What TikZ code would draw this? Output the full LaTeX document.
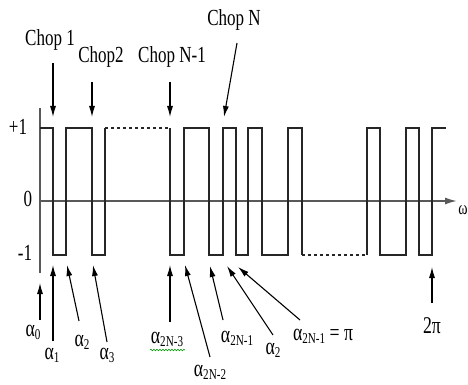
\documentclass[tikz,border=0pt]{standalone}
\usepackage{fontspec}
\setmainfont{Liberation Serif}[FakeStretch=0.74]
\usetikzlibrary{arrows.meta,positioning,decorations.pathmorphing}

\tikzset{
  wave/.style={line width=1.1pt,black!85},
  axis/.style={line width=1.6pt,black!65},
  pointer/.style={line width=1.1pt,-{Latex[length=11pt,width=6pt]}},
  lbl/.style={inner sep=0pt,font=\fontsize{23}{24}\selectfont},
  anglbl/.style={inner sep=0pt,font=\fontsize{24}{24}\selectfont},
}
\newcommand{\chopidx}[1]{\raisebox{-3pt}{\fontsize{15}{15}\selectfont #1}}

\begin{document}
\begin{tikzpicture}[x=1pt,y=-1pt]
    \useasboundingbox (0,0) rectangle (468,385);

    % axes
    \draw[axis] (40,108) -- (40,273);
    \draw[axis,-{Latex[length=12pt,width=7pt]}] (40,201) -- (457,201);
    \node[anglbl,font=\fontsize{19}{19}\selectfont] (omega) at (463,210) {ω};
    \node[lbl] (plusone) at (18,127) {+1};
    \node[lbl] (zero) at (28,199) {0};
    \node[lbl] (minusone) at (25,253) {-1};

    % chopped waveform, first part
    \draw[wave] (40,128) -- (53,128) -- (53,255) -- (66,255) -- (66,128)
        -- (92,128) -- (92,255) -- (105,255) -- (105,128);
    \draw[wave,dashed] (105,128) -- (170,128);
    % middle part, chops N-1 and N
    \draw[wave] (170,128) -- (170,255) -- (184,255) -- (184,128) -- (209,128)
        -- (209,255) -- (223,255) -- (223,128) -- (236,128) -- (236,255)
        -- (248,255) -- (248,128) -- (262,128) -- (262,255) -- (288,255)
        -- (288,128) -- (302,128) -- (302,255);
    \draw[wave,dashed] (302,255) -- (367,255);
    % last part up to 2 pi
    \draw[wave] (367,255) -- (367,128) -- (380,128) -- (380,255) -- (406,255)
        -- (406,128) -- (419,128) -- (419,255) -- (432,255) -- (432,128)
        -- (446,128);

    % chop labels on top
    \node[lbl] (chopone) at (50,40) {Chop 1};
    \node[lbl] (choptwo) at (101,57) {Chop2};
    \node[lbl] (chopnm) at (172,57) {Chop N-1};
    \node[lbl] (chopn) at (234,20) {Chop N};
    \coordinate (c1from) at (53,63);   \coordinate (c1to) at (53,117);
    \coordinate (c2from) at (92,82);   \coordinate (c2to) at (92,117);
    \coordinate (c3from) at (170,82);  \coordinate (c3to) at (170,117);
    \coordinate (c4from) at (237,43);  \coordinate (c4to) at (224,117);
    \draw[pointer] (c1from) -- (c1to);
    \draw[pointer] (c2from) -- (c2to);
    \draw[pointer] (c3from) -- (c3to);
    \draw[pointer] (c4from) -- (c4to);

    % switching angles below
    \node[anglbl] (a0) at (33,332) {α\chopidx{0}};
    \node[anglbl] (a1) at (52,355) {α\chopidx{1}};
    \node[anglbl] (a2) at (82,342) {α\chopidx{2}};
    \node[anglbl] (a3) at (107,355) {α\chopidx{3}};
    \node[anglbl] (a2nm3) at (167,339) {α\chopidx{2N-3}};
    \node[anglbl] (a2nm2) at (210,372) {α\chopidx{2N-2}};
    \node[anglbl] (a2nm1) at (237,338) {α\chopidx{2N-1}};
    \node[anglbl] (a2b) at (273,350) {α\chopidx{2}};
    \node[anglbl] (api) at (323,336) {α\chopidx{2N-1} = π};
    \node[anglbl] (twopi) at (432,326) {2π};
    \draw[green!60!black,line width=0.6pt,decorate,
        decoration={snake,amplitude=0.8pt,segment length=3pt}]
        (150,350) -- (185,350);

    \coordinate (t0) at (40,320);   \coordinate (h0) at (40,283);
    \coordinate (t1) at (53,341);   \coordinate (h1) at (53,265);
    \coordinate (t2) at (79,321);   \coordinate (h2) at (67,265);
    \coordinate (t3) at (107,342);  \coordinate (h3) at (93,265);
    \coordinate (t4) at (170,322);  \coordinate (h4) at (170,265);
    \coordinate (t5) at (210,357);  \coordinate (h5) at (185,265);
    \coordinate (t6) at (223,320);  \coordinate (h6) at (210,266);
    \coordinate (t7) at (273,335);  \coordinate (h7) at (227,266);
    \coordinate (t8) at (300,320);  \coordinate (h8) at (238,267);
    \coordinate (t9) at (432,303);  \coordinate (h9) at (432,267);
    \draw[pointer] (t0) -- (h0);
    \draw[pointer] (t1) -- (h1);
    \draw[pointer] (t2) -- (h2);
    \draw[pointer] (t3) -- (h3);
    \draw[pointer] (t4) -- (h4);
    \draw[pointer] (t5) -- (h5);
    \draw[pointer] (t6) -- (h6);
    \draw[pointer] (t7) -- (h7);
    \draw[pointer] (t8) -- (h8);
    \draw[pointer] (t9) -- (h9);
\end{tikzpicture}
\end{document}
